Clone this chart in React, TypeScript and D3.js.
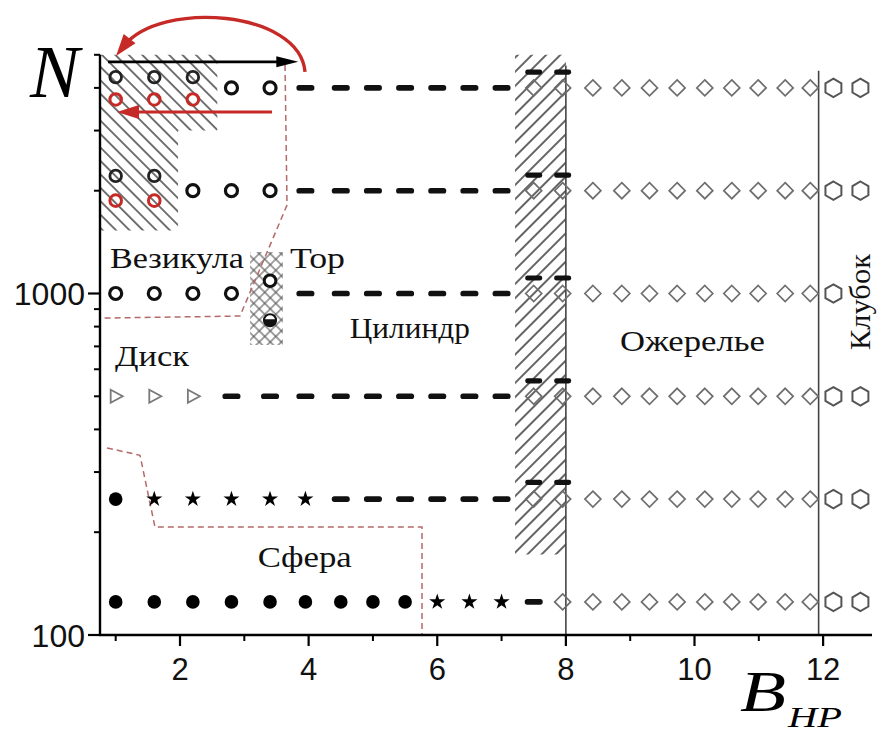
import React from 'react';
import * as d3 from 'd3';

const W = 882;
const H = 734;

type P = [number, number]; // [B_HP, N]

// ---- Data ----
const X_MAJOR = [2, 4, 6, 8, 10, 12];
const X_MINOR = [1, 3, 5, 7, 9, 11];
const Y_MAJOR = [100, 1000];
const Y_MINOR = [200, 300, 400, 500, 600, 700, 800, 900, 2000, 3000, 4000, 5000];

// Vesicle (two states: black above, red below)
const vesicleBlack: P[] = [[1.0, 4300], [1.6, 4300], [2.2, 4300], [1.0, 2210], [1.6, 2210]];
const vesicleRed: P[] = [[1.0, 3700], [1.6, 3700], [2.2, 3700], [1.0, 1870], [1.6, 1870]];
const vesicleOpen: P[] = [
  [2.8, 4000], [3.4, 4000],
  [2.2, 2000], [2.8, 2000], [3.4, 2000],
  [1.0, 1000], [1.6, 1000], [2.2, 1000], [2.8, 1000],
];
const torusOpen: P[] = [[3.4, 1090]];
const torusHalf: P[] = [[3.4, 835]];
const diskTriangles: P[] = [[1.0, 500], [1.6, 500], [2.2, 500]];
const sphereFilled: P[] = [
  [1.0, 250],
  [1.0, 125], [1.6, 125], [2.2, 125], [2.8, 125], [3.4, 125], [3.95, 125], [4.5, 125], [5.0, 125], [5.5, 125],
];
const stars: P[] = [
  [1.6, 250], [2.2, 250], [2.8, 250], [3.4, 250], [3.95, 250],
  [6.0, 125], [6.5, 125], [7.0, 125],
];
const cylinderDashes: P[] = [
  [3.95, 4000], [4.5, 4000], [5.0, 4000], [5.5, 4000], [6.0, 4000], [6.5, 4000], [7.0, 4000],
  [3.95, 2000], [4.5, 2000], [5.0, 2000], [5.5, 2000], [6.0, 2000], [6.5, 2000], [7.0, 2000],
  [3.95, 1000], [4.5, 1000], [5.0, 1000], [5.5, 1000], [6.0, 1000], [6.5, 1000], [7.0, 1000],
  [2.8, 500], [3.4, 500], [3.95, 500], [4.5, 500], [5.0, 500], [5.5, 500], [6.0, 500], [6.5, 500], [7.0, 500],
  [4.5, 250], [5.0, 250], [5.5, 250], [6.0, 250], [6.5, 250], [7.0, 250],
  [7.5, 125],
];
// dashes sitting just above the diamonds inside the hatched band
const cylinderUpper: P[] = [
  [7.5, 4450], [7.95, 4450],
  [7.5, 2220], [7.95, 2220],
  [7.5, 1110], [7.95, 1110],
  [7.5, 555], [7.95, 555],
  [7.5, 280], [7.95, 280],
];
const necklaceB = [7.5, 7.95, 8.42, 8.87, 9.3, 9.73, 10.16, 10.58, 10.99, 11.41, 11.8];
const necklaceRows = [4000, 2000, 1000, 500, 250];
const necklaceLastRowB = [7.95, 8.42, 8.87, 9.3, 9.73, 10.16, 10.58, 10.99, 11.41, 11.8];
const necklaceLastRowN = 125;
const globule: P[] = [
  [12.16, 4000], [12.58, 4000],
  [12.16, 2000], [12.58, 2000],
  [12.16, 1000],
  [12.16, 500], [12.58, 500],
  [12.16, 250], [12.58, 250],
  [12.16, 125], [12.58, 125],
];

// Regions / annotations (data coordinates)
const vesicleHatch: P[] = [[0.756, 5000], [2.58, 5000], [2.58, 3000], [1.97, 3000], [1.97, 1530], [0.756, 1530]];
const torusHatch: P[] = [[3.09, 1323], [3.6, 1323], [3.6, 707], [3.09, 707]];
const bandHatch: P[] = [[7.21, 5000], [8.0, 5000], [8.0, 172], [7.21, 172]];
const upperBoundary: P[] = [[3.633, 4667], [3.664, 1815], [2.933, 859], [0.756, 847]];
const lowerBoundary: P[] = [[0.865, 353], [1.378, 336], [1.611, 207], [5.763, 207], [5.763, 100]];
const verticalLines: P[] = [[8.0, 4650], [11.93, 4490]];

const blackArrow: P[] = [[0.88, 4768], [3.84, 4768]];
const redArrow: P[] = [[3.43, 3400], [1.02, 3400]];
const redCurve: P[] = [[3.944, 4453], [3.866, 6761], [1.689, 7230], [1.005, 4961]];

const regionLabels: { text: string; at: P; len: number }[] = [
  { text: 'Везикула', at: [0.91, 1188], len: 134 },
  { text: 'Тор', at: [3.71, 1188], len: 55 },
  { text: 'Цилиндр', at: [4.64, 741], len: 120 },
  { text: 'Диск', at: [0.99, 613], len: 74 },
  { text: 'Ожерелье', at: [8.84, 679], len: 145 },
  { text: 'Сфера', at: [3.21, 158], len: 94 },
];
const globuleLabel = { text: 'Клубок', at: [12.73, 944] as P, len: 96 };

// ---- Scales ----
const x = d3.scaleLinear().domain([0.756, 12.76]).range([100, 872]);
const y = d3.scaleLog().domain([100, 5000]).range([635, 54.8]);

const SERIF = '"Liberation Serif", "Times New Roman", serif';
const SANS = '"Liberation Sans", Arial, sans-serif';
const RED = '#c62a26';
const BOUND = '#b46a68';

const poly = (pts: P[]) => 'M' + pts.map(([b, n]) => `${x(b)},${y(n)}`).join('L') + 'Z';
const line = (pts: P[]) => 'M' + pts.map(([b, n]) => `${x(b)},${y(n)}`).join('L');

const starPath = d3.symbol().type(d3.symbolStar).size(80)() as string;
const trianglePath = 'M-5,-6.5L7,0L-5,6.5Z';
const diamondPath = 'M0,-8L8,0L0,8L-8,0Z';
const hexPath = (() => {
  const r = 9.2;
  const pts = d3.range(6).map((i) => {
    const a = (Math.PI / 3) * i - Math.PI / 2;
    return `${r * Math.cos(a)},${r * Math.sin(a)}`;
  });
  return 'M' + pts.join('L') + 'Z';
})();

function Arrowhead({ from, to, color, len, half }: { from: [number, number]; to: [number, number]; color: string; len: number; half: number }) {
  const dx = to[0] - from[0];
  const dy = to[1] - from[1];
  const d = Math.hypot(dx, dy) || 1;
  const ux = dx / d, uy = dy / d;
  const bx = to[0] - ux * len, by = to[1] - uy * len;
  const p1 = [bx - uy * half, by + ux * half];
  const p2 = [bx + uy * half, by - ux * half];
  return <path d={`M${to[0]},${to[1]}L${p1[0]},${p1[1]}L${p2[0]},${p2[1]}Z`} fill={color} />;
}

export default function App() {
  const necklace: P[] = [];
  necklaceRows.forEach((n) => necklaceB.forEach((b) => necklace.push([b, n])));
  necklaceLastRowB.forEach((b) => necklace.push([b, necklaceLastRowN]));

  const ba = blackArrow.map(([b, n]) => [x(b), y(n)] as [number, number]);
  const ra = redArrow.map(([b, n]) => [x(b), y(n)] as [number, number]);
  const rc = redCurve.map(([b, n]) => [x(b), y(n)] as [number, number]);

  return (
    <svg width={W} height={H} style={{ position: 'absolute', left: 0, top: 0, background: '#fff' }}>
      <defs>
        <pattern id="hatchBack" patternUnits="userSpaceOnUse" width={9.5} height={9.5} patternTransform="rotate(-45)">
          <line x1={4.75} y1={0} x2={4.75} y2={9.5} stroke="#2a2a2a" strokeWidth={1.3} />
        </pattern>
        <pattern id="hatchFwd" patternUnits="userSpaceOnUse" width={10} height={10} patternTransform="rotate(45)">
          <line x1={5} y1={0} x2={5} y2={10} stroke="#222" strokeWidth={1.4} />
        </pattern>
        <pattern id="cross1" patternUnits="userSpaceOnUse" width={7.8} height={7.8} patternTransform="rotate(45)">
          <line x1={3.9} y1={0} x2={3.9} y2={7.8} stroke="#555" strokeWidth={1.1} />
        </pattern>
        <pattern id="cross2" patternUnits="userSpaceOnUse" width={7.8} height={7.8} patternTransform="rotate(-45)">
          <line x1={3.9} y1={0} x2={3.9} y2={7.8} stroke="#555" strokeWidth={1.1} />
        </pattern>
      </defs>
      <rect x={0} y={0} width={W} height={H} fill="#fff" />

      {/* hatched regions */}
      <path d={poly(vesicleHatch)} fill="url(#hatchBack)" />
      <path d={poly(bandHatch)} fill="url(#hatchFwd)" />
      <path d={poly(torusHatch)} fill="url(#cross1)" />
      <path d={poly(torusHatch)} fill="url(#cross2)" />

      {/* vertical phase lines */}
      {verticalLines.map(([b, n], i) => (
        <line key={i} x1={x(b)} x2={x(b)} y1={y(n)} y2={y(100)} stroke="#444" strokeWidth={1.6} />
      ))}

      {/* dashed boundaries */}
      <path d={line(upperBoundary)} fill="none" stroke={BOUND} strokeWidth={1.5} strokeDasharray="6 4" />
      <path d={line(lowerBoundary)} fill="none" stroke={BOUND} strokeWidth={1.5} strokeDasharray="6 4" />

      {/* markers */}
      {necklace.map(([b, n], i) => (
        <path key={'d' + i} d={diamondPath} transform={`translate(${x(b)},${y(n)})`} fill="none" stroke="#6e6e6e" strokeWidth={1.7} />
      ))}
      {globule.map(([b, n], i) => (
        <path key={'h' + i} d={hexPath} transform={`translate(${x(b)},${y(n)})`} fill="none" stroke="#555" strokeWidth={2} />
      ))}
      {cylinderDashes.map(([b, n], i) => (
        <rect key={'c' + i} x={x(b) - 9} y={y(n) - 2.8} width={18} height={5.6} rx={2.6} fill="#111" />
      ))}
      {cylinderUpper.map(([b, n], i) => (
        <rect key={'u' + i} x={x(b) - 8.5} y={y(n) - 2.6} width={17} height={5.2} rx={2.4} fill="#111" />
      ))}
      {vesicleOpen.map(([b, n], i) => (
        <circle key={'o' + i} cx={x(b)} cy={y(n)} r={6} fill="none" stroke="#111" strokeWidth={3.2} />
      ))}
      {vesicleBlack.map(([b, n], i) => (
        <circle key={'vb' + i} cx={x(b)} cy={y(n)} r={5.8} fill="none" stroke="#222" strokeWidth={2.8} />
      ))}
      {vesicleRed.map(([b, n], i) => (
        <circle key={'vr' + i} cx={x(b)} cy={y(n)} r={5.8} fill="none" stroke={RED} strokeWidth={3} />
      ))}
      {torusOpen.map(([b, n], i) => (
        <circle key={'to' + i} cx={x(b)} cy={y(n)} r={5.8} fill="#fff" stroke="#111" strokeWidth={3} />
      ))}
      {torusHalf.map(([b, n], i) => (
        <g key={'th' + i} transform={`translate(${x(b)},${y(n)})`}>
          <circle r={6} fill="#fff" stroke="#111" strokeWidth={2} />
          <path d="M-7,-1A7,7 0 0 0 7,-1Z" fill="#111" />
        </g>
      ))}
      {diskTriangles.map(([b, n], i) => (
        <path key={'t' + i} d={trianglePath} transform={`translate(${x(b)},${y(n)})`} fill="none" stroke="#7a7a7a" strokeWidth={1.8} />
      ))}
      {sphereFilled.map(([b, n], i) => (
        <circle key={'s' + i} cx={x(b)} cy={y(n)} r={6.8} fill="#000" />
      ))}
      {stars.map(([b, n], i) => (
        <path key={'st' + i} d={starPath} transform={`translate(${x(b)},${y(n)})`} fill="#000" />
      ))}

      {/* axes */}
      <line x1={x(0.756)} x2={x(0.756)} y1={y(5000)} y2={y(100) + 1} stroke="#000" strokeWidth={2.4} />
      <line x1={x(0.756) - 1} x2={x(12.76)} y1={y(100)} y2={y(100)} stroke="#000" strokeWidth={2.4} />
      {Y_MAJOR.map((v) => (
        <g key={'ym' + v}>
          <line x1={x(0.756) - 12} x2={x(0.756)} y1={y(v)} y2={y(v)} stroke="#000" strokeWidth={2.2} />
          <text x={x(0.756) - 15} y={y(v)} dy="0.36em" textAnchor="end" fontFamily={SANS} fontSize={32} fill="#111">
            {v}
          </text>
        </g>
      ))}
      {Y_MINOR.map((v) => (
        <line key={'yn' + v} x1={x(0.756) - 6} x2={x(0.756)} y1={y(v)} y2={y(v)} stroke="#000" strokeWidth={2} />
      ))}
      {X_MAJOR.map((v) => (
        <g key={'xm' + v}>
          <line x1={x(v)} x2={x(v)} y1={y(100)} y2={y(100) + 11} stroke="#000" strokeWidth={2.2} />
          <text x={x(v)} y={y(100) + 45} textAnchor="middle" fontFamily={SANS} fontSize={31} fill="#111">
            {v}
          </text>
        </g>
      ))}
      {X_MINOR.map((v) => (
        <line key={'xn' + v} x1={x(v)} x2={x(v)} y1={y(100)} y2={y(100) + 6} stroke="#000" strokeWidth={2} />
      ))}

      {/* region labels */}
      {regionLabels.map((l) => (
        <text
          key={l.text}
          x={x(l.at[0])}
          y={y(l.at[1])}
          fontFamily={SERIF}
          fontSize={29}
          textLength={l.len}
          lengthAdjust="spacingAndGlyphs"
          fill="#111"
        >
          {l.text}
        </text>
      ))}
      <text
        transform={`translate(${x(globuleLabel.at[0])},${y(globuleLabel.at[1])}) rotate(-90)`}
        textAnchor="middle"
        fontFamily={SERIF}
        fontSize={29}
        textLength={globuleLabel.len}
        lengthAdjust="spacingAndGlyphs"
        fill="#111"
      >
        {globuleLabel.text}
      </text>

      {/* axis titles */}
      <text x={30} y={97} fontFamily={SERIF} fontStyle="italic" fontSize={74} fill="#000">N</text>
      <text x={740} y={711} fontFamily={SERIF} fontStyle="italic" fontSize={56} textLength={46} lengthAdjust="spacingAndGlyphs" fill="#000">B</text>
      <text x={788} y={727} fontFamily={SERIF} fontStyle="italic" fontSize={30} textLength={54} lengthAdjust="spacingAndGlyphs" fill="#000">HP</text>

      {/* arrows */}
      <line x1={ba[0][0]} y1={ba[0][1]} x2={ba[1][0] - 10} y2={ba[1][1]} stroke="#000" strokeWidth={2.6} />
      <Arrowhead from={ba[0]} to={ba[1]} color="#000" len={22} half={5.5} />
      <line x1={ra[0][0]} y1={ra[0][1]} x2={ra[1][0] + 10} y2={ra[1][1]} stroke={RED} strokeWidth={3.2} />
      <Arrowhead from={ra[0]} to={ra[1]} color={RED} len={22} half={7} />
      <path
        d={`M${rc[0][0]},${rc[0][1]}C${rc[1][0]},${rc[1][1]} ${rc[2][0]},${rc[2][1]} ${rc[3][0] + 8},${rc[3][1] - 10}`}
        fill="none"
        stroke={RED}
        strokeWidth={3.4}
      />
      <Arrowhead from={rc[2]} to={rc[3]} color={RED} len={22} half={7.5} />
    </svg>
  );
}
